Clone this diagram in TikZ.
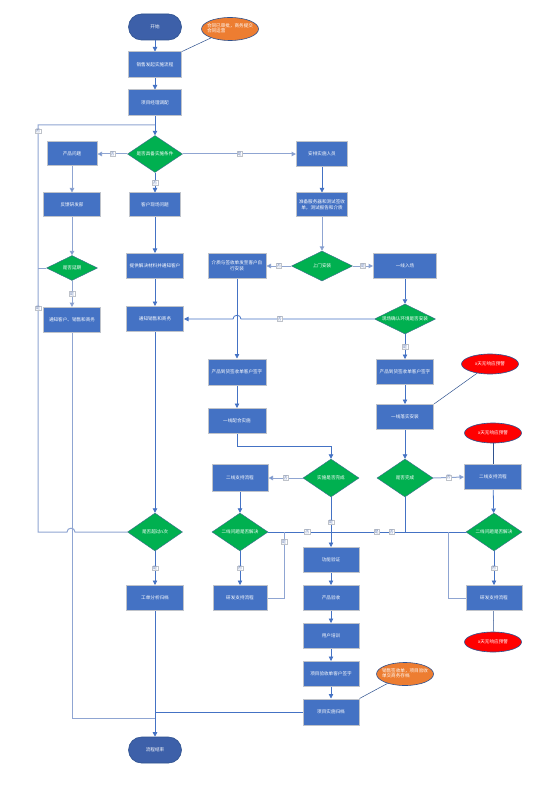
\documentclass[tikz,border=0pt]{standalone}
\usepackage{fontspec}
\setmainfont{Noto Sans CJK SC}
\usetikzlibrary{arrows.meta,shapes.geometric}
\definecolor{boxblue}{HTML}{4472C4}
\definecolor{boxedge}{HTML}{BFC3CA}
\definecolor{decgreen}{HTML}{00B050}
\definecolor{decedge}{HTML}{3E6E8E}
\definecolor{termblue}{HTML}{3D60A9}
\definecolor{termedge}{HTML}{2F528F}
\definecolor{orng}{HTML}{ED7D31}
\definecolor{redfill}{HTML}{FF0000}
\definecolor{connblue}{HTML}{4472C4}
\definecolor{connlight}{HTML}{8FA5D2}
\definecolor{lbltext}{HTML}{6F86B8}
\newcommand{\fs}{\fontsize{4.6}{5.6}\selectfont}
\newcommand{\lfs}{\fontsize{4.2}{5}\selectfont}
\newcommand{\zw}[1]{\makebox[0pt]{#1}}
\tikzset{
  proc/.style 2 args={rectangle, draw=boxedge, line width=1pt, fill=boxblue, text=white, font=\fs, minimum width=#1pt, minimum height=#2pt, inner sep=0.5pt, align=center},
  dec/.style 2 args={diamond, draw=decedge, line width=0.4pt, fill=decgreen, text=white, font=\fs, minimum width=#1pt, minimum height=#2pt, inner sep=0pt},
  term/.style={rectangle, rounded corners=13pt, draw=termedge, line width=0.6pt, fill=termblue, text=white, font=\fs, minimum width=53pt, minimum height=26pt, inner sep=0pt},
  oval/.style={ellipse, draw=termedge, line width=0.6pt, text=white, font=\fs, minimum width=57pt, inner sep=0pt},
  conn/.style={draw=connblue, line width=0.8pt},
  connl/.style={draw=connlight, line width=1pt},
  arr/.style={conn, -{Triangle[length=4.5pt,width=4.5pt]}},
  arrl/.style={connl, -{Triangle[length=4.5pt,width=4.5pt,fill=connblue]}},
  lbl/.style={fill=white, draw=boxedge, line width=0.3pt, inner sep=0.6pt, text=lbltext, font=\lfs},
  note/.style={draw=termedge, line width=0.5pt}
}
\begin{document}
\begin{tikzpicture}[x=1pt,y=-1pt]
\useasboundingbox[fill=white] (0,0) rectangle (555,791);

% ---------- nodes ----------
\node[term] (start) at (155,27) {开始};
\node[oval, fill=orng, minimum height=23pt] (note1) at (230,29) {\zw{\begin{tabular}{@{}l@{}}合同已审批，商务提交\\合同运营\end{tabular}}};
\node[proc={53}{26}] (n1) at (155,65) {销售发起实施流程};
\node[proc={53}{26}] (n2) at (155,103) {项目经理调配};
\node[dec={55}{37}] (d1) at (155,154) {\zw{是否具备实施条件}};
\node[proc={50}{24}] (p1) at (72,154) {产品问题};
\node[proc={51}{24}] (c1) at (155,205) {客户现场问题};
\node[proc={51}{25}] (s1) at (322,154) {安排实施人员};
\node[proc={51}{24}] (s2) at (322,205) {准备服务器和测试签收\\单，测试报告和介质};
\node[proc={57}{24}] (f1) at (72,205) {反馈研发部};
\node[dec={51}{25}] (d2) at (72,268) {\zw{是否延期}};
\node[proc={57}{25}] (t1) at (72,320) {通知客户、销售和商务};
\node[proc={57}{25}] (c2) at (155,266) {提供解决材料并通知客户};
\node[proc={57}{25}] (c3) at (155,319) {通知销售和商务};
\node[dec={61}{30}] (d3) at (322,266) {\zw{上门安装}};
\node[proc={58}{25}] (m1) at (237,266) {介质与签收单发至客户自\\行安装};
\node[proc={63}{25}] (r1) at (405,266) {一线入场};
\node[dec={61}{30}] (d4) at (405,319) {\zw{现场确认环境是否安装}};
\node[proc={57}{25}] (r2) at (405,372) {产品到货签收单客户签字};
\node[proc={58}{26}] (m2) at (237,372) {产品到货签收单客户签字};
\node[oval, fill=redfill, minimum height=20pt] (e1) at (490,364) {\zw{x天无响应预警}};
\node[proc={58}{25}] (m3) at (237,421) {一线配合实施};
\node[proc={57}{25}] (r3) at (405,417) {一线落实安装};
\node[oval, fill=redfill, minimum height=20pt] (e2) at (493,433) {\zw{x天无响应预警}};
\node[dec={56}{38}] (d5) at (331,478) {\zw{实施是否完成}};
\node[proc={56}{27}] (m4) at (240,478) {二线支持流程};
\node[dec={56}{38}] (d6) at (240,532) {\zw{二线问题是否解决}};
\node[proc={54}{25}] (m5) at (240,598) {研发支持流程};
\node[dec={56}{38}] (d7) at (405,478) {\zw{是否完成}};
\node[proc={57}{25}] (r4) at (493,477) {二线支持流程};
\node[dec={56}{38}] (d8) at (494,532) {\zw{二线问题是否解决}};
\node[proc={56}{25}] (r5) at (494,598) {研发支持流程};
\node[oval, fill=redfill, minimum height=20pt] (e3) at (493,642) {\zw{x天无响应预警}};
\node[dec={55}{38}] (d9) at (155,532) {\zw{是否超过n次}};
\node[proc={57}{25}] (w1) at (155,598) {工单分析归档};
\node[proc={56}{25}] (v1) at (331,560) {功能验证};
\node[proc={56}{25}] (v2) at (331,598) {产品验收};
\node[proc={56}{25}] (v3) at (331,636) {用户培训};
\node[proc={56}{25}] (v4) at (331,674) {项目验收单客户签字};
\node[proc={56}{26}] (v5) at (331,712) {项目实施归档};
\node[oval, fill=orng, minimum height=23pt] (note2) at (405,674) {\zw{\begin{tabular}{@{}l@{}}销售签收单，项目验收\\单交商务存档\end{tabular}}};
\node[term] (end) at (155,750) {流程结束};

% ---------- helper coordinates ----------
\coordinate (ltop) at (38,125);
\coordinate (lbot) at (38,532);
\coordinate (jtop) at (155,125);
\coordinate (bot1) at (155,718);
\coordinate (bot2) at (155,712);
\coordinate (mjoin) at (331,532);

% ---------- connectors ----------
\draw[arr] (start) -- (n1);
\draw[arr] (n1) -- (n2);
\draw[arr] (n2) -- (d1);
\draw[note] (note1) -- (n1.north east);

\draw[arrl] (d1.west) -- (p1.east) node[lbl,midway]{否};
\draw[arr] (d1.south) -- (c1.north) node[lbl,midway]{否};
\draw[arrl] (d1.east) -- (s1.west) node[lbl,midway]{是};

\draw[arrl] (p1) -- (f1);
\draw[arrl] (f1) -- (d2);
\draw[arrl] (d2) -- (t1) node[lbl,midway]{是};
\draw[connl] (d2.west) -- (d2.west -| ltop);
\draw[connl] (d9.west) -- (75,532) .. controls (75,527) and (67,527) .. (67,532) -- (lbot)
  -- node[lbl,pos=0.55]{是} node[lbl,pos=0.985]{否} (ltop) -- (jtop);
\draw[connl] (t1.south) -- (t1.south |- bot1) -- (bot1);

\draw[arr] (c1) -- (c2);
\draw[arr] (c2) -- (c3);
\draw[arr] (c3) -- (d9);
\draw[arr] (d9) -- (w1) node[lbl,midway]{是};
\draw[arr] (w1) -- (end);

\draw[arr] (s1) -- (s2);
\draw[arrl] (s2) -- (d3);
\draw[arrl] (d3.west) -- (m1.east) node[lbl,midway]{否};
\draw[arrl] (d3.east) -- (r1.west) node[lbl,midway]{是};
\draw[arr] (r1) -- (d4);
\draw[arr] (d4.west) -- node[lbl,pos=0.71]{否} (241,319) .. controls (241,314) and (233,314) .. (233,319) -- (c3.east);
\draw[arr] (d4.south) -- (r2.north) node[lbl,midway]{是};
\draw[arr] (r2) -- (r3);
\draw[arr] (r3) -- (d7);
\draw[note] (e1) -- (r3.north east);

\draw[arr] (m1) -- (m2);
\draw[arr] (m2) -- (m3);
\draw[arr] (m3.south) -- (237,446) -| (d5.north);
\draw[arrl] (d5.west) -- (m4.east) node[lbl,midway]{否};
\draw[arr] (m4) -- (d6);
\draw[arr] (d6.south) -- (m5.north) node[lbl,midway]{否};
\draw[conn] (d6.east) -- node[lbl,pos=0.62]{否} (mjoin);
\draw[connl] (m5.east) -- (284,598) -- node[lbl,pos=0.85]{是} (284,532);
\draw[arr] (d5.south) -- (v1.north) node[lbl,pos=0.5]{是};

\draw[arrl] (d7.east) -- (r4.west) node[lbl,midway]{否};
\draw[note] (e2) -- (r4);
\draw[arr] (r4) -- (d8);
\draw[arr] (d8.south) -- (r5.north) node[lbl,midway]{否};
\draw[note] (r5) -- (e3);
\draw[conn] (d8.west) -- node[lbl,pos=0.55]{否} node[lbl,pos=0.66]{是} (mjoin);
\draw[conn] (d7.south) -- (d7.south |- mjoin);
\draw[connl] (r5.west) -- (448,598) -- (448,532);

\draw[arr] (v1) -- (v2);
\draw[arr] (v2) -- (v3);
\draw[arr] (v3) -- (v4);
\draw[arr] (v4) -- (v5);
\draw[note] (note2) -- (v5.north east);
\draw[conn] (v5.west) -- (bot2);
\end{tikzpicture}
\end{document}
